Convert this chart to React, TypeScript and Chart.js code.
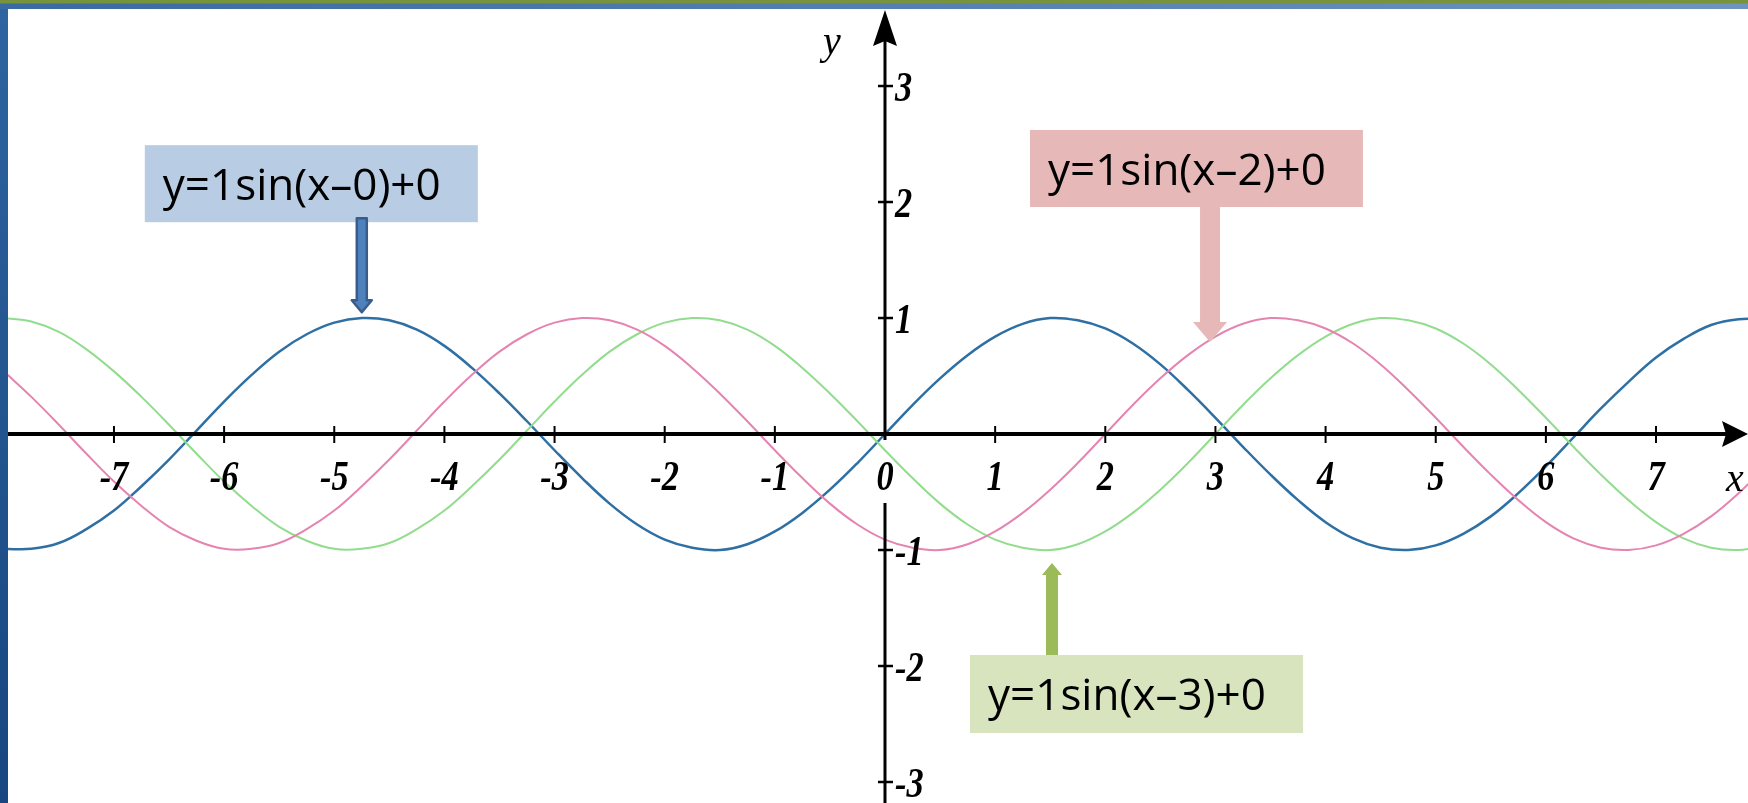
import React, { useEffect, useRef } from 'react';
import { Chart, registerables } from 'chart.js';

Chart.register(...registerables);

// sample positions along the x axis
const xValues = [
  -8, -7.75, -7.5, -7.25, -7, -6.75, -6.5, -6.25, -6, -5.75, -5.5, -5.25, -5, -4.75, -4.5, -4.25,
  -4, -3.75, -3.5, -3.25, -3, -2.75, -2.5, -2.25, -2, -1.75, -1.5, -1.25, -1, -0.75, -0.5, -0.25,
  0, 0.25, 0.5, 0.75, 1, 1.25, 1.5, 1.75, 2, 2.25, 2.5, 2.75, 3, 3.25, 3.5, 3.75,
  4, 4.25, 4.5, 4.75, 5, 5.25, 5.5, 5.75, 6, 6.25, 6.5, 6.75, 7, 7.25, 7.5, 7.75, 8,
];

// y = 1sin(x-0)+0  (blue)
const blueValues = [
  -0.99, -0.99, -0.94, -0.82, -0.66, -0.45, -0.22, 0.03, 0.28, 0.51, 0.71, 0.86, 0.96, 1.0, 0.98, 0.9,
  0.76, 0.57, 0.35, 0.11, -0.14, -0.38, -0.6, -0.78, -0.91, -0.98, -1.0, -0.95, -0.84, -0.68, -0.48, -0.25,
  0, 0.25, 0.48, 0.68, 0.84, 0.95, 1.0, 0.98, 0.91, 0.78, 0.6, 0.38, 0.14, -0.11, -0.35, -0.57,
  -0.76, -0.9, -0.98, -1.0, -0.96, -0.86, -0.71, -0.51, -0.28, -0.03, 0.22, 0.45, 0.66, 0.82, 0.94, 0.99, 0.99,
];

// y = 1sin(x-2)+0  (pink)
const pinkValues = [
  0.54, 0.32, 0.08, -0.17, -0.41, -0.62, -0.8, -0.92, -0.99, -0.99, -0.94, -0.82, -0.66, -0.45, -0.22, 0.03,
  0.28, 0.51, 0.71, 0.86, 0.96, 1.0, 0.98, 0.9, 0.76, 0.57, 0.35, 0.11, -0.14, -0.38, -0.6, -0.78,
  -0.91, -0.98, -1.0, -0.95, -0.84, -0.68, -0.48, -0.25, 0, 0.25, 0.48, 0.68, 0.84, 0.95, 1.0, 0.98,
  0.91, 0.78, 0.6, 0.38, 0.14, -0.11, -0.35, -0.57, -0.76, -0.9, -0.98, -1.0, -0.96, -0.86, -0.71, -0.51, -0.28,
];

// y = 1sin(x-3)+0  (green)
const greenValues = [
  1.0, 0.97, 0.88, 0.73, 0.54, 0.32, 0.08, -0.17, -0.41, -0.62, -0.8, -0.92, -0.99, -0.99, -0.94, -0.82,
  -0.66, -0.45, -0.22, 0.03, 0.28, 0.51, 0.71, 0.86, 0.96, 1.0, 0.98, 0.9, 0.76, 0.57, 0.35, 0.11,
  -0.14, -0.38, -0.6, -0.78, -0.91, -0.98, -1.0, -0.95, -0.84, -0.68, -0.48, -0.25, 0, 0.25, 0.48, 0.68,
  0.84, 0.95, 1.0, 0.98, 0.91, 0.78, 0.6, 0.38, 0.14, -0.11, -0.35, -0.57, -0.76, -0.9, -0.98, -1.0, -0.96,
];

const seriesLabels = ['y=1sin(x–0)+0', 'y=1sin(x–2)+0', 'y=1sin(x–3)+0'];

const xTickValues = [-7, -6, -5, -4, -3, -2, -1, 0, 1, 2, 3, 4, 5, 6, 7];
const xTickLabels = ['-7', '-6', '-5', '-4', '-3', '-2', '-1', '0', '1', '2', '3', '4', '5', '6', '7'];
const yTickValues = [3, 2, 1, -1, -2, -3];
const yTickLabels = ['3', '2', '1', '-1', '-2', '-3'];
const xAxisTitle = 'x';
const yAxisTitle = 'y';

const xDomain = [-7.962, 7.835];
const yDomain = [-3.181, 3.664];

// callout anchors in data coordinates
const callouts = [
  {
    text: seriesLabels[0], left: -6.72, top: 2.49, w: 333, h: 77, fill: '#b8cce4',
    arrowX: -4.75, tipY: 1.05, dir: 'down', arrowFill: '#4f81bd', arrowStroke: '#385d8a',
    shaftW: 10, headW: 20, headL: 12, overlap: 4,
  },
  {
    text: seriesLabels[1], left: 1.316, top: 2.621, w: 333, h: 77, fill: '#e6b9b8',
    arrowX: 2.951, tipY: 0.793, dir: 'down', arrowFill: '#e6b9b8', arrowStroke: '',
    shaftW: 20, headW: 34, headL: 20, overlap: 0,
  },
  {
    text: seriesLabels[2], left: 0.772, top: -1.905, w: 333, h: 78, fill: '#d7e4bd',
    arrowX: 1.516, tipY: -1.112, dir: 'up', arrowFill: '#9bbb59', arrowStroke: '',
    shaftW: 12, headW: 20, headL: 12, overlap: 0,
  },
];

const tickFont = 'italic bold 43px "Liberation Serif", "DejaVu Serif", serif';
const tickScaleX = 0.8;
const titleFont = 'italic 40px "Liberation Serif", "DejaVu Serif", serif';
const calloutFont = '44px "Open Sans", "Noto Sans", sans-serif';

const framePlugin = {
  id: 'frame',
  beforeDraw(chart: any) {
    const { ctx, width, height } = chart;
    ctx.save();
    ctx.fillStyle = '#ffffff';
    ctx.fillRect(0, 0, width, height);
    ctx.restore();
  },
  afterDraw(chart: any) {
    const { ctx, width, height } = chart;
    ctx.save();
    const lg = ctx.createLinearGradient(0, 0, 0, height);
    lg.addColorStop(0, '#2f64a0');
    lg.addColorStop(1, '#174680');
    ctx.fillStyle = lg;
    ctx.fillRect(0, 0, 8, height);
    const tg = ctx.createLinearGradient(0, 0, width, 0);
    tg.addColorStop(0, '#3a6aa2');
    tg.addColorStop(1, '#6e94bf');
    ctx.fillStyle = tg;
    ctx.fillRect(0, 3, width, 6);
    ctx.fillStyle = '#77933c';
    ctx.fillRect(0, 0, width, 3.5);
    ctx.restore();
  },
};

function drawTickText(ctx: any, text: string, x: number, y: number, align: string) {
  ctx.save();
  ctx.translate(x, y);
  ctx.scale(tickScaleX, 1);
  ctx.textAlign = align;
  ctx.fillText(text, 0, 0);
  ctx.restore();
}

const axesPlugin = {
  id: 'crossAxes',
  afterDatasetsDraw(chart: any) {
    const { ctx, chartArea } = chart;
    const xs = chart.scales.x;
    const ys = chart.scales.y;
    const x0 = xs.getPixelForValue(0);
    const y0 = ys.getPixelForValue(0);
    ctx.save();
    ctx.strokeStyle = '#000';
    ctx.fillStyle = '#000';
    ctx.lineCap = 'butt';

    // horizontal axis
    ctx.lineWidth = 4;
    ctx.beginPath();
    ctx.moveTo(chartArea.left, y0);
    ctx.lineTo(chartArea.right - 20, y0);
    ctx.stroke();
    ctx.beginPath();
    ctx.moveTo(chartArea.right, y0);
    ctx.lineTo(chartArea.right - 26, y0 - 13);
    ctx.lineTo(chartArea.right - 22, y0);
    ctx.lineTo(chartArea.right - 26, y0 + 13);
    ctx.closePath();
    ctx.fill();

    // vertical axis (broken around the origin label)
    const arrowTip = chartArea.top + 1;
    ctx.lineWidth = 3;
    ctx.beginPath();
    ctx.moveTo(x0, arrowTip + 30);
    ctx.lineTo(x0, y0 + 6);
    ctx.moveTo(x0, y0 + 69);
    ctx.lineTo(x0, chartArea.bottom);
    ctx.stroke();
    ctx.beginPath();
    ctx.moveTo(x0, arrowTip);
    ctx.lineTo(x0 + 12, arrowTip + 36);
    ctx.lineTo(x0, arrowTip + 31);
    ctx.lineTo(x0 - 12, arrowTip + 36);
    ctx.closePath();
    ctx.fill();

    // ticks
    ctx.lineWidth = 2;
    xTickValues.forEach((v) => {
      if (v === 0) return;
      const px = xs.getPixelForValue(v);
      ctx.beginPath();
      ctx.moveTo(px, y0 - 8);
      ctx.lineTo(px, y0 + 9);
      ctx.stroke();
    });
    ctx.lineWidth = 2.5;
    yTickValues.forEach((v) => {
      const py = ys.getPixelForValue(v);
      ctx.beginPath();
      ctx.moveTo(x0 - 7, py);
      ctx.lineTo(x0 + 8, py);
      ctx.stroke();
    });

    // tick labels
    ctx.font = tickFont;
    ctx.textBaseline = 'middle';
    xTickValues.forEach((v, i) => {
      const px = xs.getPixelForValue(v);
      drawTickText(ctx, xTickLabels[i], px, y0 + 45, 'center');
    });
    yTickValues.forEach((v, i) => {
      const py = ys.getPixelForValue(v);
      drawTickText(ctx, yTickLabels[i], x0 + 10, py + 4, 'left');
    });

    // axis titles
    ctx.font = titleFont;
    ctx.textAlign = 'center';
    ctx.fillText(xAxisTitle, chartArea.right - 13, y0 + 46);
    ctx.fillText(yAxisTitle, x0 - 53, chartArea.top + 34);
    ctx.restore();
  },
};

function drawVerticalArrow(ctx: any, cx: number, start: number, tip: number, shaftW: number, headW: number, headL: number) {
  const dir = tip > start ? 1 : -1;
  const base = tip - dir * headL;
  ctx.beginPath();
  ctx.moveTo(cx - shaftW / 2, start);
  ctx.lineTo(cx - shaftW / 2, base);
  ctx.lineTo(cx - headW / 2, base);
  ctx.lineTo(cx, tip);
  ctx.lineTo(cx + headW / 2, base);
  ctx.lineTo(cx + shaftW / 2, base);
  ctx.lineTo(cx + shaftW / 2, start);
  ctx.closePath();
}

const calloutPlugin = {
  id: 'callouts',
  afterDraw(chart: any) {
    const { ctx } = chart;
    const xs = chart.scales.x;
    const ys = chart.scales.y;
    ctx.save();
    callouts.forEach((c) => {
      const bx = xs.getPixelForValue(c.left);
      const by = ys.getPixelForValue(c.top);
      ctx.fillStyle = c.fill;
      ctx.fillRect(bx, by, c.w, c.h);
      ctx.fillStyle = '#000';
      ctx.font = calloutFont;
      ctx.textAlign = 'left';
      ctx.textBaseline = 'alphabetic';
      ctx.fillText(c.text, bx + 18, by + 55);

      const ax = xs.getPixelForValue(c.arrowX);
      const tip = ys.getPixelForValue(c.tipY);
      const start = c.dir === 'down' ? by + c.h - c.overlap : by;
      drawVerticalArrow(ctx, ax, start, tip, c.shaftW, c.headW, c.headL);
      ctx.fillStyle = c.arrowFill;
      ctx.fill();
      if (c.arrowStroke) {
        ctx.lineJoin = 'round';
        ctx.lineWidth = 2.5;
        ctx.strokeStyle = c.arrowStroke;
        ctx.stroke();
      }
    });
    ctx.restore();
  },
};

export default function App() {
  const canvasRef = useRef<HTMLCanvasElement | null>(null);

  useEffect(() => {
    document.body.style.margin = '0';
    const canvas = canvasRef.current;
    if (!canvas) return;
    const toPoints = (vals: number[]) => xValues.map((x, i) => ({ x, y: vals[i] }));
    const lineStyle = { pointRadius: 0, tension: 0.4, cubicInterpolationMode: 'default', fill: false };
    const chart = new Chart(canvas, {
      type: 'line',
      data: {
        datasets: [
          { label: seriesLabels[1], data: toPoints(pinkValues), borderColor: '#e584b0', borderWidth: 2, ...lineStyle },
          { label: seriesLabels[2], data: toPoints(greenValues), borderColor: '#92dc8e', borderWidth: 2, ...lineStyle },
          { label: seriesLabels[0], data: toPoints(blueValues), borderColor: '#2e6fa4', borderWidth: 2.5, ...lineStyle },
        ],
      },
      options: {
        animation: false,
        responsive: false,
        devicePixelRatio: 1,
        layout: { padding: { left: 8, top: 9, right: 0, bottom: 0 } },
        scales: {
          x: { type: 'linear', min: xDomain[0], max: xDomain[1], display: false, bounds: 'data' },
          y: { type: 'linear', min: yDomain[0], max: yDomain[1], display: false, bounds: 'data' },
        },
        plugins: {
          legend: { display: false },
          tooltip: { enabled: false },
        },
        events: [],
      },
      plugins: [framePlugin, axesPlugin, calloutPlugin],
    } as any);

    let alive = true;
    if ((document as any).fonts) {
      Promise.all([
        (document as any).fonts.load(calloutFont),
        (document as any).fonts.load(tickFont),
      ]).then(() => {
        if (alive) chart.draw();
      }).catch(() => {});
    }
    return () => {
      alive = false;
      chart.destroy();
    };
  }, []);

  return (
    <div style={{ position: 'absolute', left: 0, top: 0, width: 1748, height: 803 }}>
      <canvas ref={canvasRef} width={1748} height={803} style={{ display: 'block', width: 1748, height: 803 }} />
    </div>
  );
}
